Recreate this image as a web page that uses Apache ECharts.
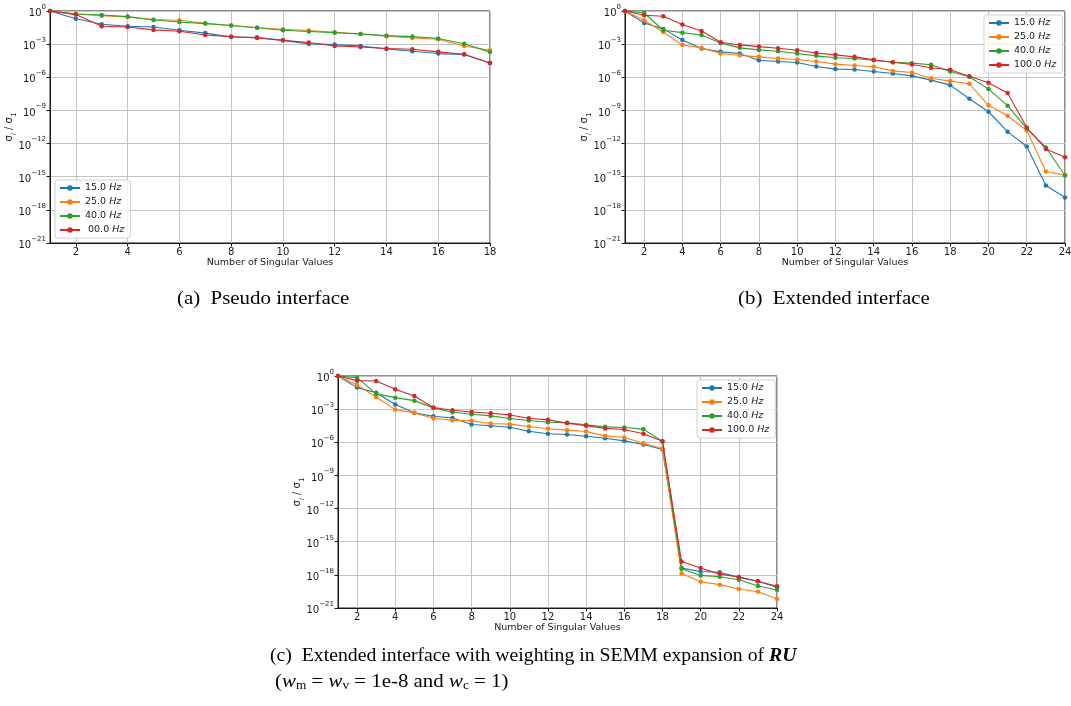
<!DOCTYPE html>
<html>
<head>
<meta charset="utf-8">
<script src="https://cdn.jsdelivr.net/npm/echarts@6/dist/echarts.min.js"></script>
<style>
  html, body { margin: 0; padding: 0; background: #ffffff; }
  #chart { width: 1071px; height: 706px; }
</style>
</head>
<body>
<div id="chart"></div>
<script>
// Normalised singular values sigma_i / sigma_1 for each excitation frequency.
const namesMain = ['15.0 Hz', '25.0 Hz', '40.0 Hz', '100.0 Hz'];
const namesPseudo = ['15.0 Hz', '25.0 Hz', '40.0 Hz', ' 00.0 Hz'];
const xTicksPseudo = [2, 4, 6, 8, 10, 12, 14, 16, 18];
const xTicksExtended = [2, 4, 6, 8, 10, 12, 14, 16, 18, 20, 22, 24];
const yTicks = [1e-21, 1e-18, 1e-15, 1e-12, 1e-9, 1e-6, 1e-3, 1];

// (a) pseudo interface, 18 singular values
const pseudo15 = [1, 2.0e-1, 6.3e-2, 4.2e-2, 3.6e-2, 1.8e-2, 1.0e-2, 4.5e-3, 4.2e-3, 2.2e-3, 1.05e-3, 9.1e-4, 6.9e-4, 3.7e-4, 2.3e-4, 1.4e-4, 1.15e-4, 2.0e-5];
const pseudo25 = [1, 5.4e-1, 3.8e-1, 2.9e-1, 1.7e-1, 1.45e-1, 7.8e-2, 4.8e-2, 3.0e-2, 2.2e-2, 1.7e-2, 1.2e-2, 8.3e-3, 5.1e-3, 3.6e-3, 2.8e-3, 6.9e-4, 2.8e-4];
const pseudo40 = [1, 5.4e-1, 4.4e-1, 3.1e-1, 1.55e-1, 1.0e-1, 7.2e-2, 4.8e-2, 3.0e-2, 1.8e-2, 1.4e-2, 1.1e-2, 8.3e-3, 5.9e-3, 4.8e-3, 3.2e-3, 1.1e-3, 1.9e-4];
const pseudo100 = [1, 4.7e-1, 4.2e-2, 3.6e-2, 1.95e-2, 1.45e-2, 6.8e-3, 4.8e-3, 3.6e-3, 2.2e-3, 1.4e-3, 6.9e-4, 5.6e-4, 4.0e-4, 3.5e-4, 2.0e-4, 1.2e-4, 2.0e-5];

// (b) extended interface, 24 singular values
const ext15 = [1, 8.3e-2, 2.4e-2, 2.4e-3, 4.0e-4, 2.0e-4, 1.4e-4, 3.5e-5, 2.7e-5, 2.2e-5, 9.5e-6, 5.5e-6, 5.1e-6, 3.3e-6, 2.2e-6, 1.35e-6, 5.5e-7, 1.95e-7, 1.15e-8, 7.6e-10, 1.2e-11, 5.4e-13, 1.6e-16, 1.3e-17];
const ext25 = [1, 1.45e-1, 1.26e-2, 8.5e-4, 4.6e-4, 1.4e-4, 1.0e-4, 7.1e-5, 5.0e-5, 4.1e-5, 2.7e-5, 1.55e-5, 1.17e-5, 8.9e-6, 3.8e-6, 2.7e-6, 8.3e-7, 4.5e-7, 2.6e-7, 2.9e-9, 3.3e-10, 1.5e-11, 3.0e-15, 1.4e-15];
const ext40 = [1, 6.6e-1, 1.8e-2, 1.1e-2, 6.8e-3, 1.3e-3, 4.6e-4, 3.0e-4, 2.3e-4, 1.4e-4, 8.7e-5, 5.8e-5, 5.0e-5, 3.5e-5, 2.3e-5, 1.9e-5, 1.35e-5, 3.3e-6, 1.1e-6, 8.5e-8, 2.7e-9, 2.4e-11, 4.4e-13, 1.3e-15];
const ext100 = [1, 4.1e-1, 3.3e-1, 5.9e-2, 1.55e-2, 1.5e-3, 8.5e-4, 6.0e-4, 4.3e-4, 2.8e-4, 1.6e-4, 1.07e-4, 7.1e-5, 3.8e-5, 2.3e-5, 1.45e-5, 7.2e-6, 4.8e-6, 1.26e-6, 3.2e-7, 3.7e-8, 2.8e-11, 3.3e-13, 5.8e-14];

// (c) extended interface with weighted SEMM expansion, 24 singular values
const wtd15 = [1, 8.9e-2, 3.0e-2, 2.6e-3, 4.6e-4, 2.3e-4, 1.6e-4, 4.1e-5, 3.1e-5, 2.3e-5, 1.0e-5, 5.9e-6, 5.1e-6, 3.5e-6, 2.3e-6, 1.35e-6, 6.3e-7, 2.2e-7, 4.1e-18, 2.0e-18, 1.7e-18, 5.9e-19, 2.6e-19, 7.4e-20];
const wtd25 = [1, 1.55e-1, 1.26e-2, 9.1e-4, 4.6e-4, 1.5e-4, 1.0e-4, 8.7e-5, 5.0e-5, 4.4e-5, 2.7e-5, 1.66e-5, 1.26e-5, 9.5e-6, 3.8e-6, 2.7e-6, 8.3e-7, 2.75e-7, 1.35e-18, 2.4e-19, 1.3e-19, 5.2e-20, 3.0e-20, 6.5e-21];
const wtd40 = [1, 7.1e-1, 2.4e-2, 1.1e-2, 5.9e-3, 1.3e-3, 5.2e-4, 3.5e-4, 2.45e-4, 1.4e-4, 9.3e-5, 6.6e-5, 5.8e-5, 3.8e-5, 2.5e-5, 2.2e-5, 1.55e-5, 1.17e-6, 3.5e-18, 8.9e-19, 6.8e-19, 3.6e-19, 9.8e-20, 4.3e-20];
const wtd100 = [1, 3.8e-1, 3.5e-1, 6.3e-2, 1.55e-2, 1.4e-3, 7.9e-4, 5.6e-4, 4.3e-4, 3.0e-4, 1.5e-4, 1.07e-4, 5.4e-5, 3.1e-5, 1.8e-5, 1.45e-5, 5.9e-6, 1.26e-6, 1.6e-17, 4.1e-18, 1.17e-18, 6.3e-19, 2.6e-19, 9.1e-20];

const colors = ['#1f77b4', '#ff7f0e', '#2ca02c', '#d62728'];
const sans = 'DejaVu Sans';
const serif = 'Liberation Serif';
const ink = '#1a1a1a';

const panels = [
  { names: namesPseudo, ticks: xTicksPseudo, xMax: 18, values: [pseudo15, pseudo25, pseudo40, pseudo100],
    grid: { left: 50, top: 11, width: 440, height: 232 }, legend: { left: 55, top: 180 } },
  { names: namesMain, ticks: xTicksExtended, xMax: 24, values: [ext15, ext25, ext40, ext100],
    grid: { left: 625, top: 11, width: 440, height: 232 }, legend: { left: 984, top: 15 } },
  { names: namesMain, ticks: xTicksExtended, xMax: 24, values: [wtd15, wtd25, wtd40, wtd100],
    grid: { left: 338, top: 376, width: 439, height: 232 }, legend: { left: 697, top: 380 } }
];

const grids = [], xAxes = [], yAxes = [], legends = [], series = [];

panels.forEach((p, k) => {
  grids.push(Object.assign({
    show: true, borderColor: ink, borderWidth: 1, backgroundColor: 'transparent',
    containLabel: false, outerBoundsMode: 'none'
  }, p.grid));
  xAxes.push({
    type: 'value', gridIndex: k, min: 1, max: p.xMax,
    name: 'Number of Singular Values', nameLocation: 'middle', nameGap: 15,
    nameTextStyle: { fontFamily: sans, fontSize: 9.5, color: ink },
    axisLine: { show: true, onZero: false, lineStyle: { color: ink, width: 1 } },
    axisTick: { show: true, length: 3.5, customValues: p.ticks, lineStyle: { color: ink } },
    axisLabel: { customValues: p.ticks, fontFamily: sans, fontSize: 10, color: ink, margin: 4 },
    splitLine: { show: true, lineStyle: { color: '#c4c4c4', width: 1 } }
  });
  yAxes.push({
    type: 'log', logBase: 10, gridIndex: k, min: 1e-21, max: 1,
    name: '{g|σ}{gi|i}{g| / σ}{gs|1}', nameLocation: 'middle', nameGap: 32, nameRotate: 90,
    nameMoveOverlap: false,
    nameTextStyle: {
      color: ink,
      rich: {
        g: { fontFamily: sans, fontSize: 10, color: ink, lineHeight: 14, verticalAlign: 'top' },
        gi: { fontFamily: sans, fontStyle: 'italic', fontSize: 7, color: ink, lineHeight: 9, verticalAlign: 'bottom' },
        gs: { fontFamily: sans, fontSize: 7, color: ink, lineHeight: 9, verticalAlign: 'bottom' }
      }
    },
    axisLine: { show: true, lineStyle: { color: ink, width: 1 } },
    axisTick: { show: true, length: 3.5, customValues: yTicks, lineStyle: { color: ink } },
    axisLabel: {
      margin: 4,
      customValues: yTicks,
      formatter: v => {
        const e = Math.round(Math.log10(v));
        return '{b|10}{s|' + (e === 0 ? '0' : '\u2212' + (-e)) + '}';
      },
      rich: {
        b: { fontFamily: sans, fontSize: 10, color: ink, lineHeight: 15, verticalAlign: 'bottom' },
        s: { fontFamily: sans, fontSize: 7, color: ink, lineHeight: 9, verticalAlign: 'top' }
      }
    },
    splitLine: { show: true, lineStyle: { color: '#c4c4c4', width: 1 } }
  });
  legends.push({
    data: p.names.slice(), left: p.legend.left, top: p.legend.top, orient: 'vertical',
    itemWidth: 20, itemHeight: 7, itemGap: 4, padding: [3, 6, 3, 4],
    backgroundColor: 'rgba(255,255,255,0.8)', borderColor: '#d0d0d0', borderWidth: 1, borderRadius: 3,
    formatter: n => '{n|' + n.replace(' Hz', ' ') + '}{h|Hz}',
    textStyle: {
      rich: {
        n: { fontFamily: sans, fontSize: 9.5, color: ink, lineHeight: 12 },
        h: { fontFamily: sans, fontStyle: 'italic', fontSize: 9.5, color: ink, lineHeight: 12 }
      }
    }
  });
  p.values.forEach((vals, j) => {
    series.push({
      type: 'line', name: p.names[j], xAxisIndex: k, yAxisIndex: k,
      data: vals.map((v, i) => [i + 1, v]),
      symbol: 'circle', symbolSize: 4.5, showSymbol: true,
      lineStyle: { color: colors[j], width: 1.1 },
      itemStyle: { color: colors[j] },
      emphasis: { disabled: true }, z: 2 + j
    });
  });
});

// Sub-figure captions (serif, slightly widened)
const capFont = { fontFamily: serif, fontSize: 18, fill: '#000' };
const capRich = {
  tx: { fontFamily: serif, fontSize: 18, color: '#000', lineHeight: 20, verticalAlign: 'middle' },
  it: { fontFamily: serif, fontSize: 18, fontStyle: 'italic', color: '#000', lineHeight: 20, verticalAlign: 'middle' },
  bi: { fontFamily: serif, fontSize: 18, fontStyle: 'italic', fontWeight: 'bold', color: '#000', lineHeight: 20, verticalAlign: 'middle' },
  sb: { fontFamily: serif, fontSize: 11.5, color: '#000', lineHeight: 8, verticalAlign: 'bottom' }
};
const captions = [
  { text: '{tx|(a)  Pseudo interface}', x: 177, y: 289, sx: 1.16 },
  { text: '{tx|(b)  Extended interface}', x: 738, y: 289, sx: 1.16 },
  { text: '{tx|(c)  Extended interface with weighting in SEMM expansion of }{bi|RU}', x: 270, y: 646, sx: 1.097 },
  { text: '{tx|(}{it|w}{sb|m}{tx| = }{it|w}{sb|v}{tx| = 1e-8 and }{it|w}{sb|c}{tx| = 1)}', x: 275, y: 672, sx: 1.16 }
];
const graphics = captions.map(c => ({
  type: 'text', x: c.x, y: c.y, scaleX: c.sx, scaleY: 1, silent: true,
  style: Object.assign({ text: c.text, rich: capRich, verticalAlign: 'top', align: 'left' }, capFont)
}));

const chart = echarts.init(document.getElementById('chart'), null, { renderer: 'canvas' });
chart.setOption({
  animation: false,
  backgroundColor: '#ffffff',
  grid: grids,
  xAxis: xAxes,
  yAxis: yAxes,
  legend: legends,
  graphic: graphics,
  series: series
});
</script>
</body>
</html>
